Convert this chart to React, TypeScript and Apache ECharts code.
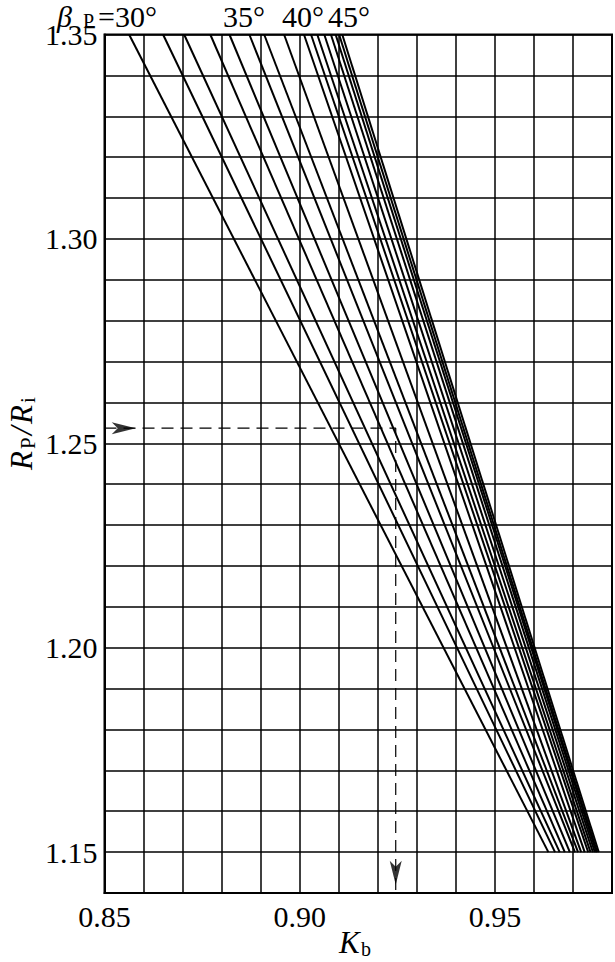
import React, { useEffect, useRef } from "react";
import * as echarts from "echarts";

// beta_P angles (degrees), one straight line each
const angles = [30, 31, 32, 33, 34, 35, 36, 37, 38, 39, 40, 41, 42, 43, 44, 45];
// K_b where each line meets R_P/R_i = 1.35 (top) and 1.15 (bottom)
const kTop = [0.8563, 0.865, 0.8704, 0.8771, 0.882, 0.8871, 0.8909, 0.896, 0.9011, 0.9029, 0.9045, 0.9063, 0.908, 0.9092, 0.9101, 0.9109];
const kBottom = [0.9637, 0.9654, 0.9666, 0.9679, 0.9692, 0.9705, 0.9713, 0.9721, 0.973, 0.9739, 0.9745, 0.9751, 0.9756, 0.976, 0.9762, 0.9766];
const ratioTop = 1.35;
const ratioBottom = 1.15;

const xTickLabels = [0.85, 0.9, 0.95];
const yTickLabels = [1.15, 1.2, 1.25, 1.3, 1.35];
const xMin = 0.85;
const xMax = 0.98;
const yMin = 1.14;
const yMax = 1.35;
const step = 0.01;

// worked example (dashed reading line)
const readRatio = 1.2537;
const readK = 0.9246;
const arrowK = 0.858;
const arrowRatio = 1.142;

const serif = "Liberation Serif";

function fmt(list: number[]) {
  return (v: number) => {
    const c = Math.round(v * 100);
    return list.some((t) => Math.round(t * 100) === c) ? (c / 100).toFixed(2) : "";
  };
}

function txt(text: string, x: number, y: number, size: number, italic = false, lineHeight?: number) {
  return {
    type: "text",
    x,
    y,
    silent: true,
    style: {
      text,
      fill: "#000",
      fontFamily: serif,
      fontSize: size,
      fontStyle: italic ? "italic" : "normal",
      align: "left",
      verticalAlign: "middle",
      ...(lineHeight ? { lineHeight } : {}),
    },
  };
}

export default function App() {
  const ref = useRef<HTMLDivElement>(null);
  useEffect(() => {
    const chart = echarts.init(ref.current!, null, { renderer: "svg" });
    const lineSeries = angles.map((a, i) => ({
      type: "line",
      name: a + "°",
      data: [
        [kTop[i], ratioTop],
        [kBottom[i], ratioBottom],
      ],
      symbol: "none",
      silent: true,
      z: 3,
      lineStyle: { color: "#000", width: 2 },
    }));
    chart.setOption({
      animation: false,
      textStyle: { fontFamily: serif },
      grid: {
        left: 104.5,
        top: 34.5,
        right: 1,
        bottom: 69,
        show: true,
        borderColor: "#000",
        borderWidth: 2,
        backgroundColor: "#fff",
      },
      xAxis: {
        type: "value",
        min: xMin,
        max: xMax,
        interval: step,
        axisLine: { show: true, lineStyle: { color: "#000", width: 2 } },
        axisTick: { show: false },
        splitLine: { show: true, lineStyle: { color: "#000", width: 1.5 } },
        axisLabel: {
          color: "#000",
          fontFamily: serif,
          fontSize: 30,
          margin: 8,
          formatter: fmt(xTickLabels),
        },
      },
      yAxis: {
        type: "value",
        min: yMin,
        max: yMax,
        interval: step,
        axisLine: { show: true, lineStyle: { color: "#000", width: 2 } },
        axisTick: { show: false },
        splitLine: { show: true, lineStyle: { color: "#000", width: 1.5 } },
        axisLabel: {
          color: "#000",
          fontFamily: serif,
          fontSize: 30,
          lineHeight: 20,
          margin: 7,
          formatter: fmt(yTickLabels),
        },
      },
      series: [
        ...lineSeries,
        {
          type: "line",
          name: "reading",
          data: [
            [xMin, readRatio],
            [readK, readRatio],
            [readK, yMin],
          ],
          symbol: "none",
          silent: true,
          z: 4,
          lineStyle: { color: "#000", width: 1.2, type: [12, 7] },
        },
        {
          type: "scatter",
          name: "arrows",
          symbol: "arrow",
          symbolSize: [9, 24],
          silent: true,
          z: 5,
          itemStyle: { color: "#000" },
          data: [
            { value: [arrowK, readRatio], symbolRotate: -90 },
            { value: [readK, arrowRatio], symbolRotate: 180 },
          ],
        },
      ],
      graphic: [
        txt("β", 57, 16, 30, true, 16),
        txt("P", 83, 21, 20, false, 12),
        txt("=30°", 98, 16, 30, false, 20),
        txt("35°", 223, 16, 30, false, 20),
        txt("40°", 282, 16, 30, false, 20),
        txt("45°", 328, 16, 30, false, 20),
        txt("K", 339, 942, 31, true),
        txt("b", 361, 949, 20),
        {
          type: "group",
          x: 21,
          y: 470,
          rotation: Math.PI / 2,
          children: [
            txt("R", 0, 0, 31, true),
            txt("P", 21, 7, 21),
            txt("/", 35, 0, 31, true),
            txt("R", 46, 0, 31, true),
            txt("i", 67, 7, 21),
          ],
        },
      ],
    });
    return () => chart.dispose();
  }, []);
  return <div ref={ref} style={{ position: "fixed", left: 0, top: 0, width: 615, height: 962, background: "#fff" }} />;
}
